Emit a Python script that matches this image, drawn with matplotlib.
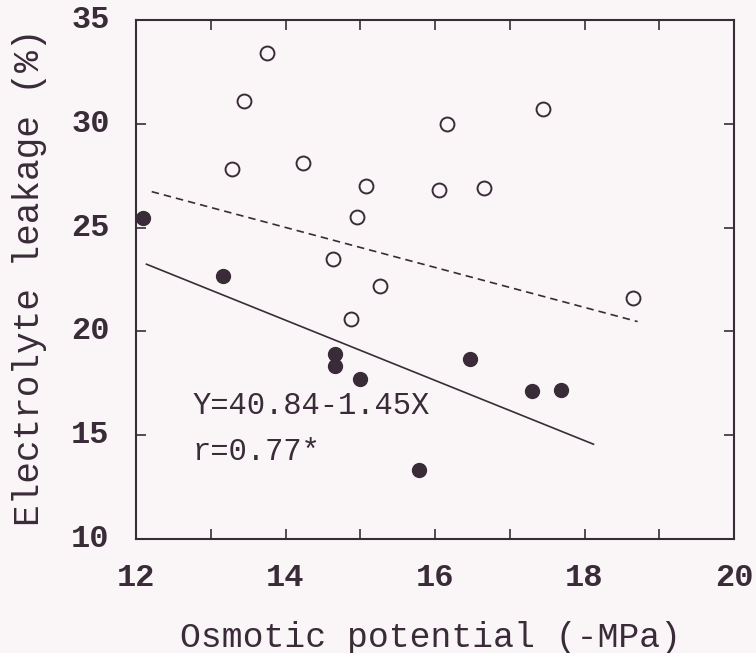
import matplotlib
matplotlib.use("Agg")
import matplotlib.pyplot as plt
import numpy as np

# Osmotic potential (-MPa) and electrolyte leakage (%)
open_x = [13.75, 13.45, 13.29, 14.24, 15.08, 14.96, 14.64, 15.26, 14.87,
          16.16, 17.45, 16.06, 16.66, 18.65]
open_y = [33.4, 31.1, 27.8, 28.1, 27.0, 25.5, 23.5, 22.2, 20.6,
          30.0, 30.7, 26.8, 26.9, 21.6]

filled_x = [12.09, 13.16, 14.66, 14.66, 14.99, 16.47, 17.30, 17.69, 15.78]
filled_y = [25.45, 22.67, 18.9, 18.33, 17.7, 18.66, 17.14, 17.18, 13.32]

# Regression for the filled points: Y = 40.84 - 1.45X
solid_intercept, solid_slope = 40.84, -1.45
solid_range = (12.14, 18.12)
# Regression for the open points
dashed_intercept, dashed_slope = 38.49, -0.963
dashed_range = (12.21, 18.71)

x_ticks = [13, 14, 15, 16, 17, 18, 19]
x_labels_at = [12, 14, 16, 18, 20]
y_ticks = [10, 15, 20, 25, 30, 35]

INK = "#3a2b38"
BG = "#faf6f8"
FONT = ["Liberation Mono", "DejaVu Sans Mono"]

plt.rcParams["font.family"] = FONT

fig = plt.figure(figsize=(7.56, 6.53), dpi=100, facecolor=BG)
ax = fig.add_axes([136 / 756, 1 - 539 / 653, (734 - 136) / 756, (539 - 20) / 653])
ax.set_facecolor(BG)

ax.set_xlim(12, 20)
ax.set_ylim(10, 35)

for s in ax.spines.values():
    s.set_color(INK)
    s.set_linewidth(1.5)

# fitted lines
xs = np.array(solid_range)
ax.plot(xs, solid_intercept + solid_slope * xs, color=INK, lw=1.2)
xd = np.array(dashed_range)
ax.plot(xd, dashed_intercept + dashed_slope * xd, color=INK, lw=1.2,
        dashes=(4.5, 3))

ax.plot(open_x, open_y, "o", ms=10, mfc="none", mec=INK, mew=1.4)
ax.plot(filled_x, filled_y, "o", ms=10, mfc=INK, mec=INK, mew=1.0)

ax.text(12.75, 16.4, "Y=40.84-1.45X", fontsize=22, color=INK, va="center")
ax.text(12.75, 14.2, "r=0.77*", fontsize=22, color=INK, va="center")

# ticks: inward on all four sides, labels on even x and every 5 on y
ax.set_xticks(x_ticks)
ax.set_xticklabels([])
ax.set_yticks(y_ticks[1:-1])
ax.set_yticklabels([])
ax.tick_params(direction="in", length=7, width=1.2, color=INK,
               top=True, right=True)

for v in x_labels_at:
    ax.annotate(str(v), xy=(v, 10), xycoords="data", xytext=(0, -28),
                textcoords="offset points", ha="center", va="center",
                fontsize=23, fontweight="bold", color=INK,
                annotation_clip=False)
for v in y_ticks:
    ax.annotate(str(v), xy=(12, v), xycoords="data", xytext=(-19, 0),
                textcoords="offset points", ha="right", va="center",
                fontsize=23, fontweight="bold", color=INK,
                annotation_clip=False)

fig.text(430 / 756, 1 - 637 / 653, "Osmotic potential (-MPa)", ha="center",
         va="center", fontsize=25, color=INK)
fig.text(30 / 756, 1 - 277 / 653, "Electrolyte leakage (%)", ha="center",
         va="center", rotation=90, fontsize=26, color=INK)

fig.savefig("out.png", dpi=100, facecolor=BG)
